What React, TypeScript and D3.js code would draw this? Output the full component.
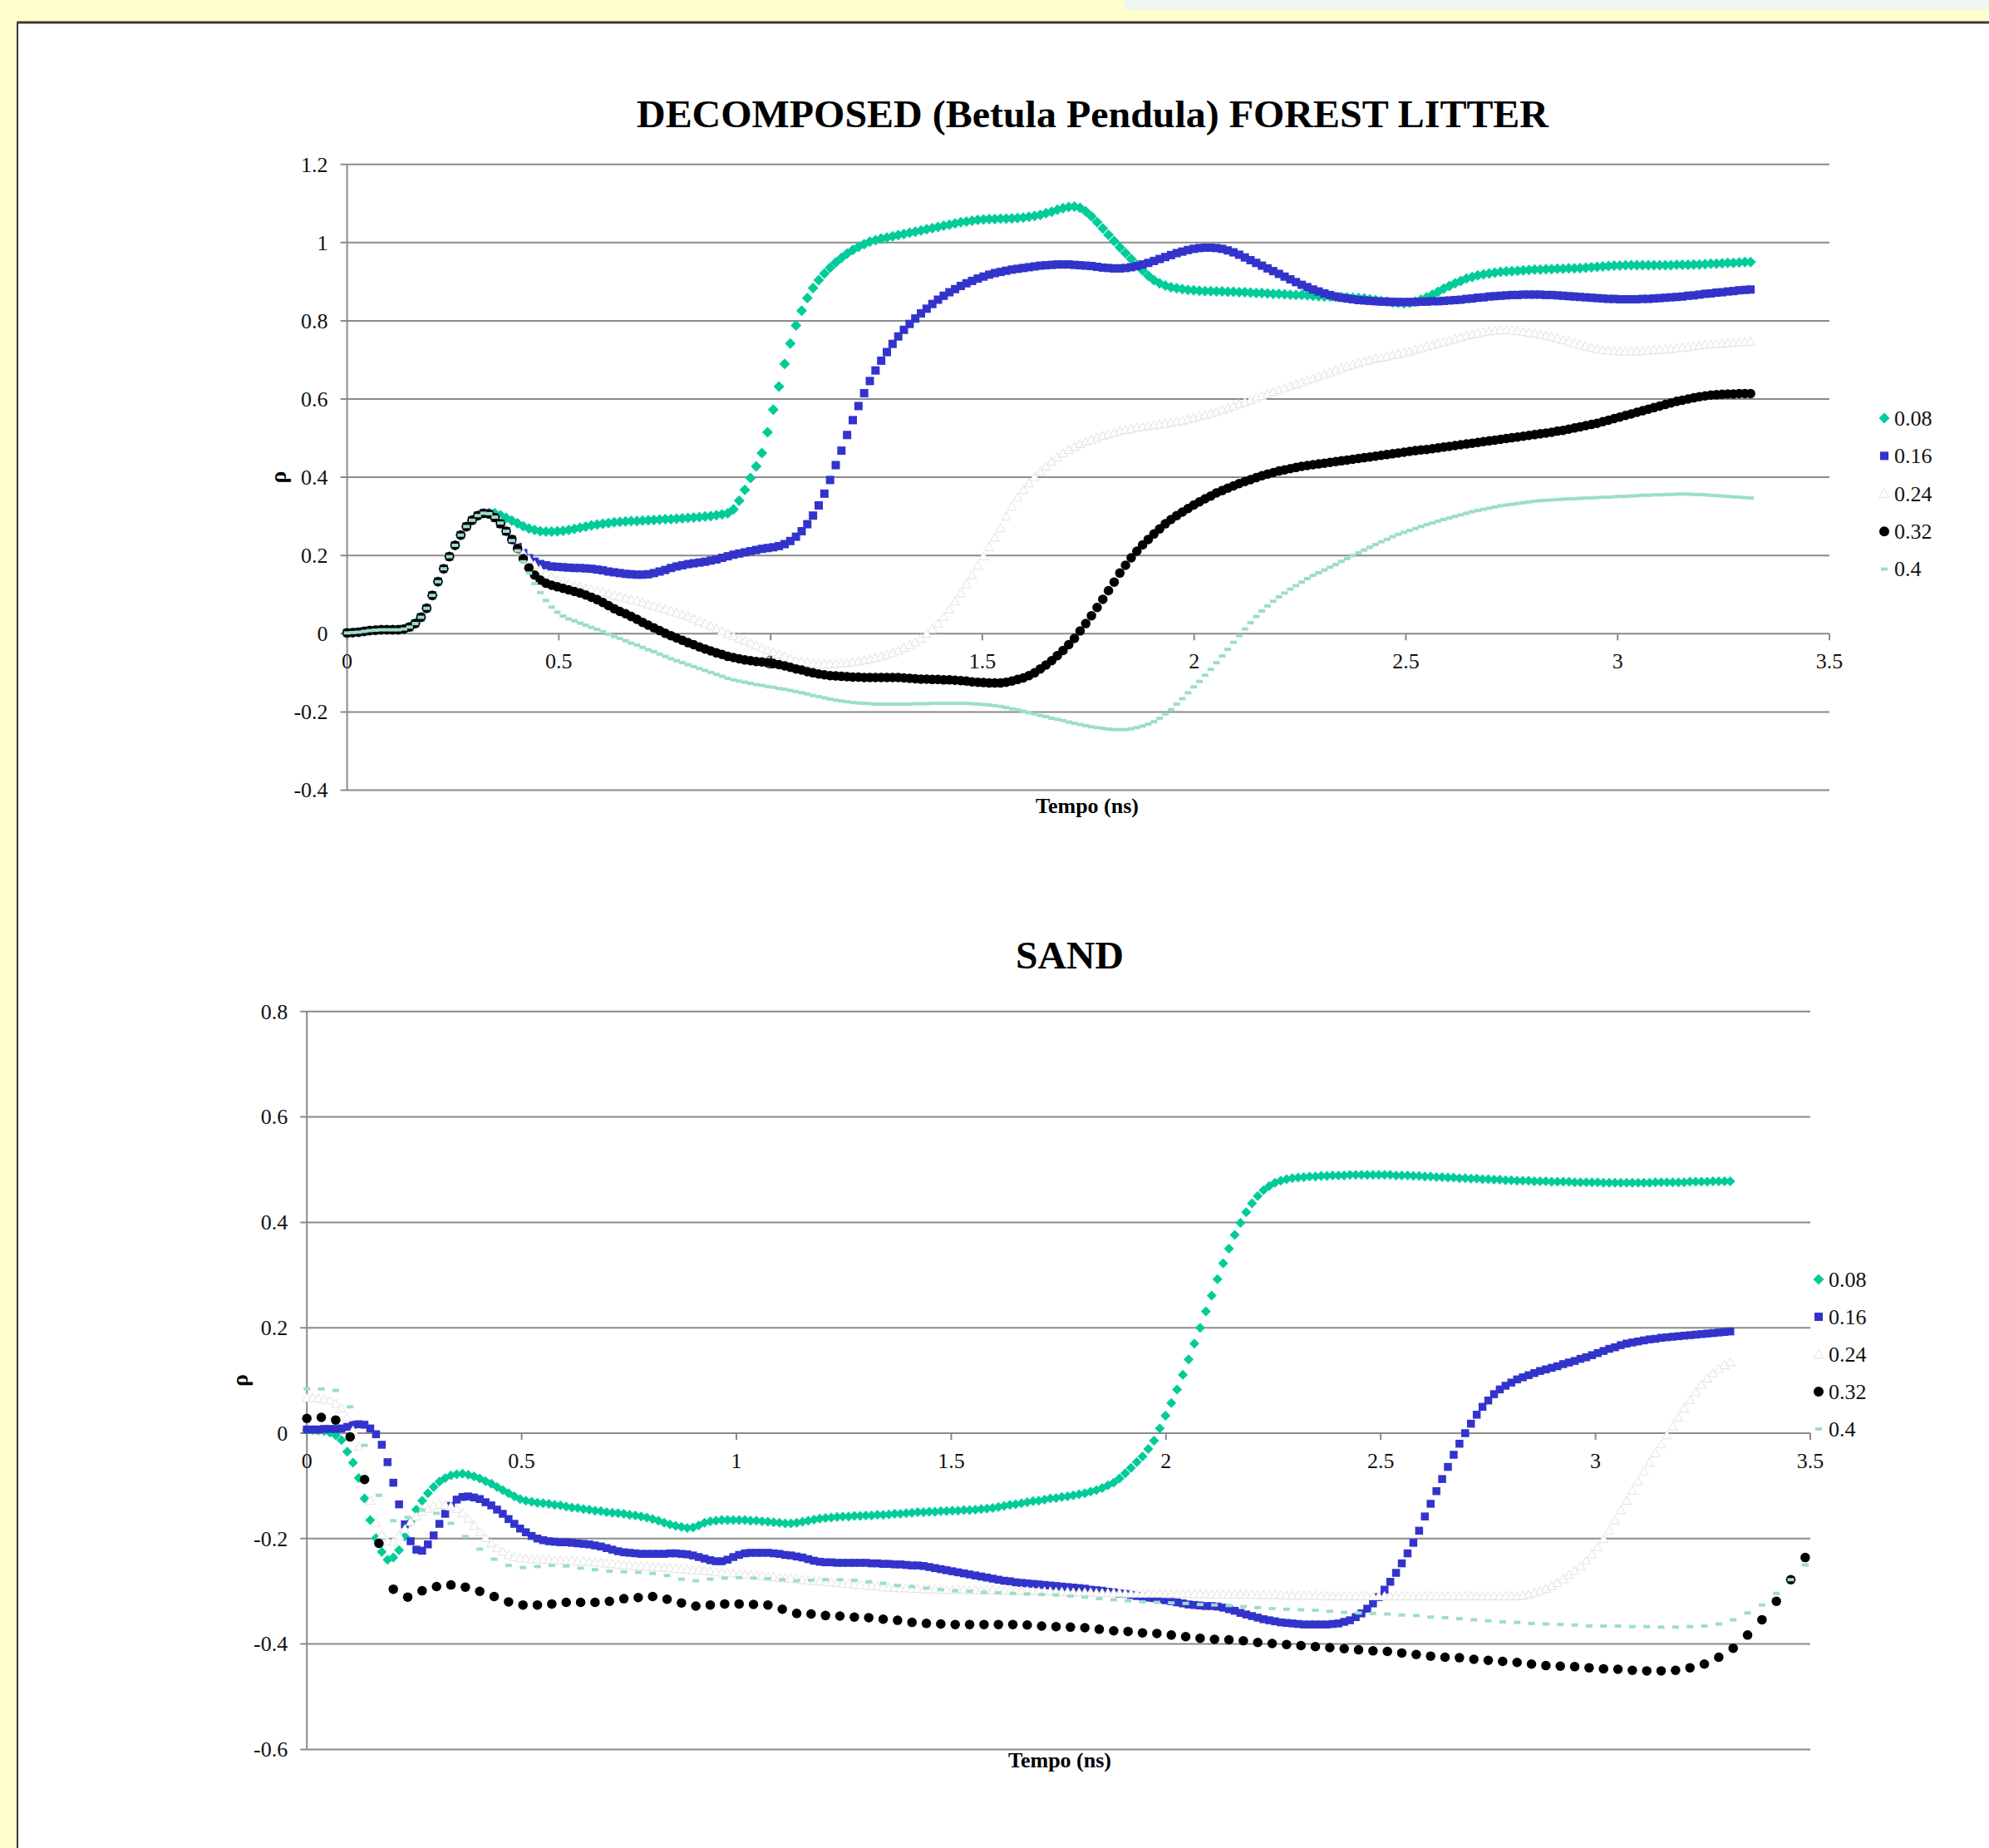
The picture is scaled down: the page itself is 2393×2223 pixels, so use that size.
import React from "react";
import * as d3 from "d3";

const SERIES_NAMES = ["0.08", "0.16", "0.24", "0.32", "0.4"];
const DENSE_STEP = 0.013416;
const SPARSE_STEP = 0.03354;
const X_TICKS = [0, 0.5, 1, 1.5, 2, 2.5, 3, 3.5];
const TOP_Y_TICKS = [1.2, 1, 0.8, 0.6, 0.4, 0.2, 0, -0.2, -0.4];
const BOT_Y_TICKS = [0.8, 0.6, 0.4, 0.2, 0, -0.2, -0.4, -0.6];
const TOP_TITLE = "DECOMPOSED (Betula Pendula) FOREST LITTER";
const BOT_TITLE = "SAND";
const X_TITLE = "Tempo (ns)";
const Y_TITLE = "ρ";

const TOP_08 = [.002,.003,.004,.006,.008,.009,.010,.010,.010,.010,
.012,.017,.026,.042,.065,.098,.133,.166,.197,.226,
.252,.274,.290,.302,.308,.309,.308,.303,.296,.289,
.282,.275,.269,.265,.262,.261,.261,.262,.263,.265,
.268,.271,.274,.277,.279,.281,.283,.285,.286,.287,
.288,.288,.289,.290,.291,.292,.293,.293,.294,.295,
.296,.297,.298,.300,.301,.303,.305,.308,.318,.340,
.368,.398,.428,.462,.515,.573,.632,.690,.742,.788,
.826,.858,.884,.904,.921,.936,.949,.961,.972,.981,
.989,.996,1.002,1.006,1.010,1.013,1.016,1.019,1.022,1.025,
1.028,1.031,1.034,1.037,1.040,1.043,1.046,1.049,1.052,1.054,
1.056,1.058,1.059,1.060,1.060,1.061,1.061,1.062,1.063,1.064,
1.066,1.068,1.071,1.075,1.079,1.084,1.088,1.091,1.092,1.089,
1.080,1.067,1.052,1.036,1.020,1.004,.988,.973,.958,.943,
.929,.915,.904,.896,.890,.886,.883,.881,.879,.878,
.877,.876,.876,.875,.875,.874,.874,.873,.873,.872,
.871,.871,.870,.869,.869,.868,.867,.866,.866,.865,
.864,.863,.862,.862,.861,.861,.860,.859,.858,.857,
.855,.853,.851,.849,.847,.846,.845,.846,.849,.854,
.860,.867,.874,.882,.889,.896,.902,.908,.912,.916,
.919,.921,.923,.925,.926,.927,.928,.929,.930,.931,
.931,.932,.932,.933,.933,.934,.934,.935,.936,.937,
.938,.939,.940,.941,.941,.942,.942,.942,.942,.942,
.942,.942,.942,.942,.943,.943,.943,.944,.944,.945,
.946,.946,.947,.948,.948,.949,.950,.950];

const TOP_16 = [.002,.003,.004,.006,.008,.009,.010,.010,.010,.010,
.012,.017,.026,.042,.065,.098,.133,.166,.197,.226,
.252,.274,.290,.302,.308,.306,.297,.281,.262,.241,
.222,.206,.193,.184,.178,.175,.172,.171,.170,.169,
.168,.168,.167,.166,.164,.162,.159,.157,.155,.153,
.152,.151,.151,.152,.155,.159,.163,.168,.172,.175,
.178,.180,.182,.184,.187,.190,.194,.198,.202,.205,
.208,.211,.214,.217,.219,.221,.224,.229,.237,.248,
.262,.280,.302,.328,.358,.393,.431,.468,.508,.546,
.582,.615,.646,.673,.698,.720,.741,.760,.777,.792,
.806,.819,.831,.843,.854,.864,.873,.881,.889,.896,
.902,.908,.913,.918,.922,.925,.928,.931,.933,.935,
.937,.939,.941,.942,.943,.944,.944,.944,.943,.942,
.941,.940,.938,.936,.935,.934,.934,.935,.937,.940,
.944,.948,.953,.958,.963,.968,.973,.977,.981,.984,
.986,.987,.987,.986,.984,.980,.975,.969,.962,.955,
.948,.941,.934,.927,.920,.913,.906,.899,.892,.886,
.880,.875,.870,.866,.862,.859,.857,.855,.853,.852,
.851,.850,.849,.849,.848,.848,.848,.848,.848,.849,
.849,.850,.850,.851,.852,.853,.854,.856,.857,.859,
.860,.862,.863,.864,.865,.866,.866,.867,.867,.867,
.867,.866,.866,.865,.864,.863,.862,.861,.860,.859,
.858,.857,.856,.856,.855,.855,.855,.855,.856,.856,
.857,.858,.859,.860,.861,.862,.864,.865,.867,.869,
.870,.872,.873,.875,.876,.878,.879,.880];

const TOP_24 = [.002,.003,.004,.006,.008,.009,.010,.010,.010,.010,
.012,.017,.026,.042,.065,.098,.133,.166,.197,.226,
.252,.274,.290,.302,.308,.306,.298,.285,.266,.245,
.225,.206,.190,.176,.164,.154,.145,.138,.132,.127,
.122,.119,.116,.113,.109,.106,.102,.098,.095,.091,
.088,.084,.080,.075,.071,.067,.063,.058,.054,.049,
.044,.038,.032,.026,.020,.013,.007,.000,-.006,-.012,
-.018,-.024,-.030,-.036,-.042,-.047,-.053,-.058,-.063,-.067,
-.071,-.074,-.076,-.077,-.078,-.078,-.077,-.076,-.075,-.073,
-.071,-.068,-.065,-.062,-.058,-.054,-.049,-.043,-.036,-.029,
-.022,-.012,.000,.012,.026,.043,.062,.083,.104,.127,
.150,.174,.198,.222,.246,.270,.300,.325,.348,.368,
.385,.401,.415,.428,.440,.451,.461,.470,.478,.485,
.491,.496,.501,.506,.510,.514,.518,.521,.524,.527,
.529,.531,.533,.535,.537,.540,.542,.545,.548,.552,
.556,.559,.563,.567,.572,.577,.582,.587,.592,.597,
.603,.608,.613,.618,.623,.628,.633,.638,.643,.648,
.653,.658,.663,.668,.673,.678,.683,.688,.692,.696,
.700,.703,.706,.709,.712,.715,.718,.722,.726,.730,
.734,.738,.742,.746,.750,.754,.758,.762,.765,.768,
.771,.773,.775,.776,.776,.775,.774,.772,.770,.768,
.765,.762,.759,.755,.751,.747,.743,.739,.735,.731,
.728,.726,.724,.723,.722,.722,.722,.722,.723,.724,
.725,.726,.727,.728,.730,.731,.733,.735,.737,.739,
.740,.741,.742,.743,.744,.745,.746,.747];

const TOP_32 = [.002,.003,.004,.006,.008,.009,.010,.010,.010,.010,
.012,.017,.026,.042,.065,.098,.133,.166,.197,.226,
.252,.274,.290,.302,.308,.306,.297,.281,.262,.241,
.218,.192,.168,.150,.137,.129,.124,.120,.116,.112,
.108,.104,.099,.093,.087,.080,.072,.064,.057,.051,
.044,.037,.029,.022,.015,.008,.001,-.005,-.011,-.017,
-.023,-.028,-.034,-.039,-.044,-.049,-.053,-.058,-.061,-.064,
-.067,-.069,-.071,-.072,-.074,-.076,-.079,-.082,-.086,-.090,
-.093,-.097,-.100,-.103,-.105,-.107,-.108,-.109,-.110,-.111,
-.111,-.112,-.112,-.112,-.112,-.112,-.112,-.112,-.113,-.114,
-.115,-.116,-.116,-.117,-.117,-.118,-.118,-.119,-.120,-.121,
-.123,-.124,-.125,-.126,-.126,-.126,-.124,-.121,-.117,-.113,
-.107,-.100,-.090,-.080,-.069,-.056,-.043,-.028,-.012,.007,
.026,.046,.067,.088,.110,.132,.155,.175,.194,.211,
.227,.241,.255,.268,.281,.292,.302,.311,.320,.329,
.337,.345,.352,.360,.366,.372,.378,.384,.389,.394,
.399,.404,.408,.412,.416,.419,.422,.425,.428,.430,
.432,.434,.436,.438,.440,.442,.444,.446,.448,.450,
.452,.454,.456,.458,.460,.462,.464,.466,.468,.470,
.471,.473,.475,.477,.479,.481,.483,.485,.487,.489,
.491,.493,.495,.497,.499,.501,.503,.505,.507,.509,
.511,.513,.515,.518,.520,.523,.526,.529,.532,.535,
.538,.542,.546,.550,.554,.558,.562,.566,.570,.574,
.578,.582,.586,.590,.594,.597,.600,.603,.606,.608,
.610,.611,.612,.613,.613,.614,.614,.614];

const TOP_40 = [.002,.003,.004,.006,.008,.009,.010,.010,.010,.010,
.012,.017,.026,.042,.065,.098,.133,.166,.197,.226,
.252,.274,.290,.302,.308,.307,.298,.283,.262,.238,
.212,.184,.155,.128,.105,.085,.068,.055,.045,.038,
.033,.027,.022,.016,.011,.005,-.001,-.007,-.012,-.018,
-.024,-.029,-.035,-.041,-.046,-.052,-.058,-.064,-.069,-.074,
-.079,-.084,-.089,-.094,-.099,-.104,-.109,-.114,-.118,-.121,
-.124,-.127,-.130,-.132,-.135,-.137,-.140,-.142,-.145,-.148,
-.151,-.154,-.158,-.161,-.164,-.167,-.170,-.172,-.174,-.176,
-.177,-.178,-.179,-.180,-.180,-.180,-.180,-.180,-.180,-.180,
-.179,-.179,-.179,-.178,-.178,-.178,-.178,-.178,-.178,-.178,
-.179,-.180,-.181,-.182,-.184,-.186,-.189,-.192,-.195,-.198,
-.202,-.205,-.209,-.212,-.216,-.219,-.222,-.226,-.229,-.232,
-.235,-.238,-.240,-.242,-.244,-.245,-.245,-.245,-.243,-.240,
-.236,-.231,-.225,-.216,-.205,-.194,-.180,-.166,-.151,-.136,
-.122,-.106,-.091,-.074,-.057,-.040,-.022,-.005,.012,.028,
.044,.058,.071,.083,.094,.104,.114,.123,.132,.141,
.149,.156,.163,.170,.177,.185,.192,.200,.207,.214,
.221,.228,.235,.241,.248,.254,.259,.264,.269,.274,
.279,.283,.288,.292,.296,.300,.304,.308,.312,.315,
.318,.321,.324,.327,.329,.331,.333,.335,.337,.339,
.340,.341,.342,.343,.344,.345,.345,.346,.347,.347,
.348,.349,.349,.350,.351,.351,.352,.353,.354,.354,
.355,.355,.356,.356,.357,.357,.357,.356,.356,.355,
.354,.353,.352,.351,.350,.349,.348,.347];

const BOT_08 = [.006,.006,.005,.004,.001,-.004,-.013,-.035,-.056,-.085,
-.124,-.165,-.199,-.225,-.240,-.236,-.222,-.196,-.168,-.145,
-.128,-.114,-.102,-.092,-.085,-.080,-.078,-.077,-.079,-.082,
-.086,-.091,-.096,-.102,-.108,-.114,-.120,-.125,-.128,-.130,
-.132,-.133,-.134,-.136,-.137,-.139,-.141,-.142,-.144,-.145,
-.147,-.148,-.150,-.151,-.152,-.153,-.155,-.156,-.158,-.160,
-.163,-.166,-.170,-.173,-.176,-.178,-.180,-.179,-.175,-.170,
-.167,-.166,-.165,-.165,-.165,-.165,-.165,-.166,-.166,-.167,
-.168,-.169,-.170,-.171,-.171,-.170,-.168,-.166,-.164,-.162,
-.161,-.160,-.159,-.158,-.158,-.157,-.157,-.156,-.156,-.155,
-.155,-.154,-.153,-.153,-.152,-.151,-.150,-.150,-.149,-.149,
-.148,-.148,-.147,-.147,-.146,-.146,-.145,-.144,-.143,-.142,
-.140,-.138,-.136,-.135,-.133,-.131,-.129,-.128,-.126,-.124,
-.123,-.121,-.120,-.118,-.116,-.114,-.111,-.108,-.104,-.099,
-.094,-.086,-.076,-.066,-.055,-.044,-.030,-.014,.009,.033,
.057,.083,.111,.140,.170,.200,.231,.261,.292,.322,
.350,.376,.399,.419,.436,.450,.461,.469,.475,.479,
.482,.484,.485,.486,.487,.487,.488,.488,.489,.489,
.489,.490,.490,.490,.490,.490,.490,.490,.490,.489,
.489,.489,.488,.488,.487,.487,.486,.486,.485,.485,
.484,.484,.483,.483,.482,.482,.481,.481,.480,.480,
.479,.479,.479,.478,.478,.478,.477,.477,.477,.477,
.476,.476,.476,.476,.476,.475,.475,.475,.475,.475,
.475,.475,.475,.475,.476,.476,.476,.476,.476,.476,
.477,.477,.477,.477,.478,.478,.478,.478];

const BOT_16 = [.007,.007,.007,.008,.008,.008,.009,.012,.016,.017,
.016,.009,-.002,-.022,-.055,-.094,-.135,-.173,-.205,-.221,
-.223,-.211,-.194,-.172,-.153,-.138,-.126,-.121,-.120,-.122,
-.125,-.131,-.137,-.145,-.153,-.163,-.172,-.181,-.188,-.195,
-.200,-.203,-.205,-.206,-.207,-.207,-.208,-.209,-.210,-.211,
-.213,-.215,-.218,-.221,-.224,-.226,-.227,-.228,-.229,-.229,
-.229,-.229,-.229,-.228,-.228,-.229,-.230,-.232,-.235,-.238,
-.241,-.243,-.243,-.240,-.235,-.231,-.228,-.227,-.227,-.227,
-.227,-.228,-.229,-.231,-.232,-.234,-.236,-.239,-.242,-.244,
-.245,-.245,-.246,-.246,-.246,-.246,-.246,-.246,-.247,-.247,
-.248,-.248,-.249,-.249,-.250,-.251,-.251,-.252,-.254,-.256,
-.258,-.260,-.262,-.264,-.266,-.268,-.270,-.272,-.274,-.276,
-.278,-.280,-.281,-.283,-.284,-.285,-.286,-.287,-.288,-.289,
-.290,-.291,-.292,-.293,-.294,-.295,-.297,-.298,-.299,-.301,
-.302,-.304,-.305,-.307,-.309,-.310,-.312,-.313,-.315,-.317,
-.319,-.321,-.323,-.325,-.326,-.327,-.328,-.328,-.329,-.331,
-.334,-.337,-.341,-.344,-.347,-.350,-.353,-.355,-.357,-.359,
-.360,-.361,-.362,-.363,-.363,-.363,-.363,-.363,-.362,-.361,
-.358,-.355,-.349,-.342,-.333,-.323,-.311,-.297,-.282,-.265,
-.247,-.228,-.208,-.185,-.158,-.134,-.110,-.087,-.064,-.041,
-.020,.000,.018,.035,.050,.062,.074,.083,.090,.096,
.102,.106,.110,.114,.118,.121,.124,.127,.131,.134,
.137,.141,.144,.148,.152,.156,.160,.163,.167,.170,
.172,.174,.176,.178,.179,.181,.182,.183,.184,.185,
.186,.187,.188,.189,.190,.191,.192,.193];

const BOT_24 = [.067,.067,.066,.064,.062,.056,.047,.030,.005,-.025,
-.080,-.128,-.170,-.193,-.205,-.206,-.194,-.182,-.168,-.158,
-.149,-.143,-.138,-.135,-.136,-.139,-.144,-.152,-.162,-.175,
-.188,-.199,-.209,-.218,-.225,-.231,-.235,-.237,-.238,-.239,
-.239,-.240,-.240,-.241,-.241,-.242,-.242,-.243,-.243,-.244,
-.245,-.246,-.247,-.248,-.249,-.250,-.251,-.252,-.252,-.253,
-.253,-.254,-.255,-.256,-.257,-.258,-.259,-.260,-.260,-.261,
-.262,-.263,-.264,-.265,-.266,-.267,-.268,-.269,-.270,-.271,
-.272,-.273,-.274,-.275,-.276,-.277,-.278,-.279,-.280,-.281,
-.282,-.283,-.284,-.285,-.286,-.287,-.288,-.289,-.290,-.291,
-.292,-.293,-.293,-.294,-.294,-.295,-.295,-.296,-.296,-.296,
-.297,-.297,-.297,-.297,-.297,-.298,-.298,-.298,-.298,-.298,
-.298,-.299,-.299,-.299,-.299,-.299,-.300,-.300,-.300,-.300,
-.301,-.301,-.301,-.302,-.302,-.302,-.302,-.303,-.303,-.303,
-.303,-.303,-.304,-.304,-.304,-.304,-.304,-.304,-.304,-.305,
-.305,-.305,-.305,-.305,-.305,-.305,-.305,-.306,-.306,-.306,
-.306,-.306,-.306,-.306,-.306,-.307,-.307,-.307,-.307,-.307,
-.308,-.308,-.308,-.308,-.308,-.308,-.309,-.309,-.309,-.309,
-.309,-.309,-.309,-.309,-.309,-.309,-.309,-.309,-.309,-.309,
-.309,-.309,-.309,-.309,-.309,-.309,-.309,-.309,-.309,-.309,
-.309,-.309,-.309,-.309,-.309,-.309,-.309,-.309,-.309,-.309,
-.309,-.308,-.306,-.303,-.299,-.295,-.290,-.284,-.277,-.269,
-.261,-.252,-.242,-.230,-.216,-.201,-.184,-.165,-.146,-.128,
-.109,-.091,-.072,-.055,-.038,-.021,-.004,.013,.030,.047,
.063,.078,.092,.104,.114,.122,.129,.135];

const BOT_32 = [.028,.030,.025,-.007,-.088,-.209,-.296,-.311,-.299,-.291,
-.288,-.292,-.300,-.310,-.320,-.326,-.326,-.324,-.321,-.321,
-.321,-.319,-.314,-.312,-.310,-.315,-.322,-.328,-.326,-.324,
-.324,-.325,-.326,-.334,-.342,-.343,-.346,-.347,-.349,-.350,
-.353,-.355,-.359,-.361,-.362,-.363,-.363,-.363,-.363,-.363,
-.364,-.366,-.367,-.368,-.369,-.372,-.375,-.376,-.379,-.380,
-.383,-.386,-.389,-.391,-.392,-.394,-.397,-.399,-.401,-.403,
-.405,-.407,-.409,-.411,-.413,-.414,-.417,-.420,-.423,-.425,
-.426,-.429,-.431,-.433,-.435,-.438,-.441,-.442,-.443,-.445,
-.447,-.448,-.450,-.451,-.451,-.450,-.445,-.438,-.425,-.408,
-.383,-.354,-.319,-.278,-.236];

const BOT_40 = [.084,.084,.081,.050,-.023,-.118,-.166,-.160,-.146,-.152,
-.171,-.196,-.220,-.239,-.251,-.255,-.253,-.251,-.252,-.256,
-.259,-.262,-.263,-.264,-.266,-.270,-.277,-.280,-.277,-.275,
-.274,-.275,-.276,-.278,-.280,-.279,-.278,-.278,-.279,-.282,
-.285,-.289,-.291,-.294,-.297,-.299,-.300,-.302,-.303,-.304,
-.305,-.306,-.307,-.309,-.311,-.314,-.316,-.318,-.320,-.321,
-.322,-.323,-.325,-.326,-.327,-.329,-.331,-.333,-.334,-.335,
-.336,-.338,-.340,-.341,-.342,-.343,-.345,-.346,-.349,-.350,
-.352,-.354,-.356,-.358,-.359,-.361,-.362,-.363,-.364,-.366,
-.366,-.366,-.367,-.367,-.368,-.368,-.367,-.366,-.362,-.354,
-.341,-.326,-.304,-.278,-.250];

type Shape = "diamond" | "square" | "triangle" | "circle" | "dash";
const SHAPES: Shape[] = ["diamond", "square", "triangle", "circle", "dash"];
const FILLS = ["#00CC99", "#3333CC", "#FFFFFF", "#000000", "#9CDEC7"];
const STROKES = ["none", "none", "#E2E2E2", "none", "none"];

const SERIF = "'Liberation Serif', 'Times New Roman', serif";
const GRID = "#8A8A8A";

function Marker(props: { shape: Shape; x: number; y: number; s: number; idx: number }) {
  const { shape, x, y, s, idx } = props;
  const h = s / 2;
  const fill = FILLS[idx];
  const stroke = STROKES[idx];
  if (shape === "diamond")
    return <path d={`M${x},${y - h}L${x + h},${y}L${x},${y + h}L${x - h},${y}Z`} fill={fill} />;
  if (shape === "square") return <rect x={x - h} y={y - h} width={s} height={s} fill={fill} />;
  if (shape === "triangle")
    return (
      <path
        d={`M${x},${y - h}L${x + h},${y + h * 0.8}L${x - h},${y + h * 0.8}Z`}
        fill={fill}
        stroke={stroke}
        strokeWidth={1}
      />
    );
  if (shape === "circle") return <circle cx={x} cy={y} r={h} fill={fill} />;
  return <rect x={x - h} y={y - s / 4} width={s} height={s / 2} fill={fill} />;
}

type PanelCfg = {
  xRange: [number, number];
  yDomain: [number, number];
  yRange: [number, number];
  yTicks: number[];
  series: { values: number[]; step: number }[];
  sizes: number[];
  title: string;
  titleX: number;
  titleW: number;
  titleY: number;
  xTitleX: number;
  xTitleY: number;
  yTitleX: number;
  legendX: number;
  legendY: number;
  legendStep: number;
};

function Panel({ cfg }: { cfg: PanelCfg }) {
  const x = d3.scaleLinear().domain([0, 3.5]).range(cfg.xRange);
  const y = d3.scaleLinear().domain(cfg.yDomain).range(cfg.yRange);
  const [x0, x1] = cfg.xRange;
  const yTop = cfg.yRange[1];
  const yBot = cfg.yRange[0];
  const y0 = y(0);
  const fmt = (v: number) => String(v);
  return (
    <g>
      {cfg.yTicks.map((t) => (
        <line key={"g" + t} x1={x0 - 8} x2={x1} y1={y(t)} y2={y(t)} stroke={GRID} strokeWidth={2} />
      ))}
      <line x1={x0} x2={x0} y1={yTop} y2={yBot} stroke={GRID} strokeWidth={2} />
      {X_TICKS.map((t) => (
        <line key={"xt" + t} x1={x(t)} x2={x(t)} y1={y0} y2={y0 + 8} stroke={GRID} strokeWidth={2} />
      ))}
      {cfg.yTicks.map((t) => (
        <text
          key={"yl" + t}
          x={x0 - 23}
          y={y(t)}
          dy="0.34em"
          textAnchor="end"
          fontFamily={SERIF}
          fontSize={26}
          fill="#111"
        >
          {fmt(t)}
        </text>
      ))}
      {X_TICKS.map((t) => (
        <text
          key={"xl" + t}
          x={x(t)}
          y={y0 + 42}
          textAnchor="middle"
          fontFamily={SERIF}
          fontSize={26}
          fill="#111"
        >
          {fmt(t)}
        </text>
      ))}
      {cfg.series.map((s, si) => (
        <g key={"s" + si}>
          {s.values.map((v, i) => (
            <Marker key={i} shape={SHAPES[si]} idx={si} x={x(i * s.step)} y={y(v)} s={cfg.sizes[si]} />
          ))}
        </g>
      ))}
      <text
        x={cfg.titleX}
        y={cfg.titleY}
        fontFamily={SERIF}
        fontWeight="bold"
        fontSize={46}
        textLength={cfg.titleW}
        lengthAdjust="spacingAndGlyphs"
        fill="#000"
      >
        {cfg.title}
      </text>
      <text
        x={cfg.xTitleX}
        y={cfg.xTitleY}
        textAnchor="middle"
        fontFamily={SERIF}
        fontWeight="bold"
        fontSize={26}
        fill="#000"
      >
        {X_TITLE}
      </text>
      <text
        transform={`translate(${cfg.yTitleX},${(yTop + yBot) / 2}) rotate(-90)`}
        textAnchor="middle"
        dy="0.3em"
        fontFamily={SERIF}
        fontWeight="bold"
        fontSize={28}
        fill="#000"
      >
        {Y_TITLE}
      </text>
      {SERIES_NAMES.map((n, i) => {
        const ly = cfg.legendY + i * cfg.legendStep;
        const ms = [13, 10, 12, 12, 8][i];
        return (
          <g key={"l" + n}>
            <Marker shape={SHAPES[i]} idx={i} x={cfg.legendX} y={ly} s={ms} />
            <text x={cfg.legendX + 12} y={ly} dy="0.34em" fontFamily={SERIF} fontSize={26} fill="#111">
              {n}
            </text>
          </g>
        );
      })}
    </g>
  );
}

const TOP_CFG: PanelCfg = {
  xRange: [417.6, 2201],
  yDomain: [-0.4, 1.2],
  yRange: [950.5, 197.7],
  yTicks: TOP_Y_TICKS,
  series: [
    { values: TOP_08, step: DENSE_STEP },
    { values: TOP_16, step: DENSE_STEP },
    { values: TOP_24, step: DENSE_STEP },
    { values: TOP_32, step: DENSE_STEP },
    { values: TOP_40, step: DENSE_STEP },
  ],
  sizes: [13, 10, 11, 11.5, 8],
  title: TOP_TITLE,
  titleX: 766,
  titleW: 1097,
  titleY: 153,
  xTitleX: 1308,
  xTitleY: 978,
  yTitleX: 336,
  legendX: 2267,
  legendY: 503,
  legendStep: 45.4,
};

const BOT_CFG: PanelCfg = {
  xRange: [369.2, 2178],
  yDomain: [-0.6, 0.8],
  yRange: [2104.4, 1216.8],
  yTicks: BOT_Y_TICKS,
  series: [
    { values: BOT_08, step: DENSE_STEP },
    { values: BOT_16, step: DENSE_STEP },
    { values: BOT_24, step: DENSE_STEP },
    { values: BOT_32, step: SPARSE_STEP },
    { values: BOT_40, step: SPARSE_STEP },
  ],
  sizes: [12, 9.5, 11, 11.5, 8],
  title: BOT_TITLE,
  titleX: 1222,
  titleW: 130,
  titleY: 1165,
  xTitleX: 1275,
  xTitleY: 2126,
  yTitleX: 290,
  legendX: 2188,
  legendY: 1539,
  legendStep: 45,
};

export default function App() {
  const W = 2393;
  const H = 2223;
  return (
    <svg
      width={W}
      height={H}
      viewBox={`0 0 ${W} ${H}`}
      style={{ position: "absolute", left: 0, top: 0, display: "block" }}
    >
      <rect x={0} y={0} width={W} height={H} fill="#FFFFCC" />
      <rect x={1352} y={0} width={W - 1352} height={12} fill="#EEF6F1" />
      <rect x={21} y={27} width={W} height={H} fill="#FFFFFF" />
      <line x1={21} x2={W} y1={27} y2={27} stroke="#3A3A3A" strokeWidth={3} />
      <line x1={21} x2={21} y1={26} y2={H} stroke="#3A3A3A" strokeWidth={2} />
      <Panel cfg={TOP_CFG} />
      <Panel cfg={BOT_CFG} />
    </svg>
  );
}
